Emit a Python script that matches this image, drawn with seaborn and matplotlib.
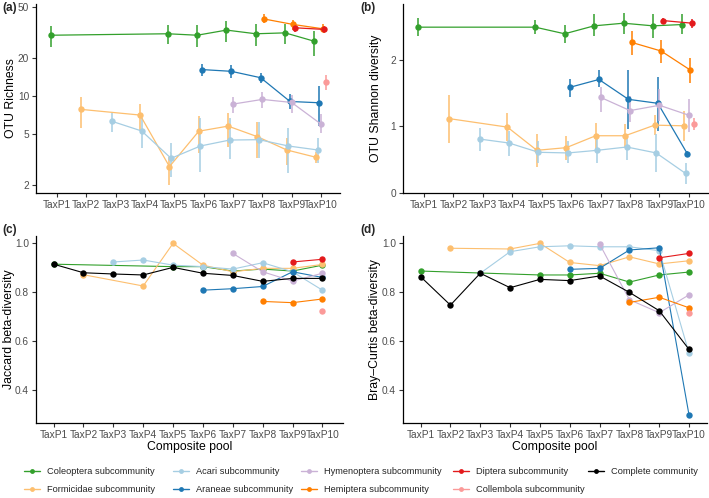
import matplotlib
matplotlib.use("Agg")
import matplotlib.pyplot as plt
from matplotlib.lines import Line2D
from matplotlib.ticker import NullLocator, FixedLocator
import seaborn as sns
import pandas as pd

sns.set_style("ticks")
plt.rcParams['font.family'] = ['Liberation Sans', 'DejaVu Sans']

POOLS = ["TaxP1", "TaxP2", "TaxP3", "TaxP4", "TaxP5", "TaxP6", "TaxP7", "TaxP8", "TaxP9", "TaxP10"]
SERIES = ["Coleoptera subcommunity", "Formicidae subcommunity", "Acari subcommunity",
          "Araneae subcommunity", "Hymenoptera subcommunity", "Hemiptera subcommunity",
          "Diptera subcommunity", "Collembola subcommunity", "Complete community"]
COLORS = ["#33a02c", "#fdbf6f", "#a6cee3", "#1f78b4", "#cab2d6", "#ff7f00", "#e31a1c", "#fb9a99", "#000000"]
N = None

# (a) OTU richness: mean, lower, upper
rich = {
    "Coleoptera subcommunity": [29.9, N, N, N, 30.7, 29.9, 32.8, 30.7, 31.2, 26.8],
    "Formicidae subcommunity": [N, 7.85, N, 7.09, 2.8, 5.3, 5.81, 4.8, 3.78, 3.31],
    "Acari subcommunity": [N, N, 6.32, 5.32, 3.25, 4.06, 4.52, 4.55, 4.06, 3.78],
    "Araneae subcommunity": [N, N, N, N, N, 16.1, 15.6, 13.9, 9.06, 8.85],
    "Hymenoptera subcommunity": [N, N, N, N, N, N, 8.64, 9.4, 8.9, 6.03],
    "Hemiptera subcommunity": [N, N, N, N, N, N, N, 40.1, 36.3, 33.6],
    "Diptera subcommunity": [N, N, N, N, N, N, N, N, 34.2, 33.2],
    "Collembola subcommunity": [N, N, N, N, N, N, N, N, N, 12.9],
}
rich_lo = {
    "Coleoptera subcommunity": [24.2, N, N, N, 25.3, 24.2, 26.5, 24.8, 25.3, 20.7],
    "Formicidae subcommunity": [N, 5.64, N, 5.41, 2.0, 3.6, 4.0, 3.25, 2.88, 2.97],
    "Acari subcommunity": [N, N, 5.25, 3.94, 2.34, 2.56, 3.19, 3.25, 2.51, 2.97],
    "Araneae subcommunity": [N, N, N, N, N, 14.3, 13.95, 12.7, 7.94, 5.81],
    "Hymenoptera subcommunity": [N, N, N, N, N, N, 7.3, 8.0, 7.3, 5.1],
    "Hemiptera subcommunity": [N, N, N, N, N, N, N, 37.3, 33.1, 31.7],
    "Diptera subcommunity": [N, N, N, N, N, N, N, N, 31.7, 31.2],
    "Collembola subcommunity": [N, N, N, N, N, N, N, N, N, 11.2],
}
rich_hi = {
    "Coleoptera subcommunity": [35.6, N, N, N, 36.2, 35.8, 38.7, 36.4, 36.4, 32.1],
    "Formicidae subcommunity": [N, 9.86, N, 8.59, 3.35, 7.0, 7.3, 6.28, 4.66, 3.67],
    "Acari subcommunity": [N, N, 7.3, 6.68, 4.26, 6.68, 6.68, 6.28, 5.57, 4.66],
    "Araneae subcommunity": [N, N, N, N, N, 17.96, 17.4, 15.2, 10.3, 11.9],
    "Hymenoptera subcommunity": [N, N, N, N, N, N, 9.86, 10.8, 10.2, 7.22],
    "Hemiptera subcommunity": [N, N, N, N, N, N, N, 43.6, 39.6, 36.4],
    "Diptera subcommunity": [N, N, N, N, N, N, N, N, 36.9, 35.2],
    "Collembola subcommunity": [N, N, N, N, N, N, N, N, N, 14.6],
}

# (b) Shannon diversity: mean, lower, upper
shan = {
    "Coleoptera subcommunity": [2.50, N, N, N, 2.50, 2.40, 2.52, 2.56, 2.52, 2.54],
    "Formicidae subcommunity": [N, 1.12, N, 0.99, 0.64, 0.68, 0.86, 0.86, 1.02, 1.01],
    "Acari subcommunity": [N, N, 0.81, 0.75, 0.61, 0.60, 0.64, 0.69, 0.60, 0.29],
    "Araneae subcommunity": [N, N, N, N, N, 1.59, 1.71, 1.41, 1.35, 0.59],
    "Hymenoptera subcommunity": [N, N, N, N, N, N, 1.44, 1.24, 1.32, 1.17],
    "Hemiptera subcommunity": [N, N, N, N, N, N, N, 2.27, 2.14, 1.85],
    "Diptera subcommunity": [N, N, N, N, N, N, N, N, 2.60, 2.56],
    "Collembola subcommunity": [N, N, N, N, N, N, N, N, N, 1.03],
}
shan_lo = {
    "Coleoptera subcommunity": [2.36, N, N, N, 2.39, 2.26, 2.36, 2.39, 2.34, 2.39],
    "Formicidae subcommunity": [N, 0.75, N, 0.78, 0.39, 0.50, 0.64, 0.68, 0.87, 0.78],
    "Acari subcommunity": [N, N, 0.63, 0.55, 0.45, 0.45, 0.45, 0.50, 0.31, 0.13],
    "Araneae subcommunity": [N, N, N, N, N, 1.45, 1.59, 0.96, 0.93, 0.55],
    "Hymenoptera subcommunity": [N, N, N, N, N, N, 1.22, 1.06, 1.08, 0.91],
    "Hemiptera subcommunity": [N, N, N, N, N, N, N, 2.08, 1.96, 1.65],
    "Diptera subcommunity": [N, N, N, N, N, N, N, N, 2.56, 2.48],
    "Collembola subcommunity": [N, N, N, N, N, N, N, N, N, 0.94],
}
shan_hi = {
    "Coleoptera subcommunity": [2.64, N, N, N, 2.61, 2.54, 2.70, 2.72, 2.70, 2.70],
    "Formicidae subcommunity": [N, 1.48, N, 1.21, 0.88, 0.86, 1.05, 1.03, 1.18, 1.23],
    "Acari subcommunity": [N, N, 0.98, 0.93, 0.78, 0.78, 0.86, 0.88, 0.88, 0.45],
    "Araneae subcommunity": [N, N, N, N, N, 1.71, 1.85, 1.85, 1.75, 0.63],
    "Hymenoptera subcommunity": [N, N, N, N, N, N, 1.60, 1.46, 1.56, 1.42],
    "Hemiptera subcommunity": [N, N, N, N, N, N, N, 2.44, 2.31, 2.03],
    "Diptera subcommunity": [N, N, N, N, N, N, N, N, 2.64, 2.63],
    "Collembola subcommunity": [N, N, N, N, N, N, N, N, N, 1.13],
}

# (c) Jaccard beta-diversity
jacc = {
    "Coleoptera subcommunity": [0.915, N, N, N, 0.905, 0.905, 0.887, 0.895, 0.887, 0.911],
    "Formicidae subcommunity": [N, 0.872, N, 0.826, 1.0, 0.911, 0.884, 0.898, 0.898, 0.914],
    "Acari subcommunity": [N, N, 0.924, 0.932, 0.911, 0.905, 0.895, 0.921, 0.884, 0.809],
    "Araneae subcommunity": [N, N, N, N, N, 0.809, 0.815, 0.824, 0.884, 0.861],
    "Hymenoptera subcommunity": [N, N, N, N, N, N, 0.959, 0.884, 0.846, 0.878],
    "Hemiptera subcommunity": [N, N, N, N, N, N, N, 0.763, 0.758, 0.773],
    "Diptera subcommunity": [N, N, N, N, N, N, N, N, 0.924, 0.935],
    "Collembola subcommunity": [N, N, N, N, N, N, N, N, N, 0.725],
    "Complete community": [0.915, 0.880, 0.875, 0.871, 0.902, 0.878, 0.869, 0.845, 0.857, 0.857],
}

# (d) Bray-Curtis beta-diversity
bray = {
    "Coleoptera subcommunity": [0.887, N, N, N, 0.871, 0.871, 0.878, 0.842, 0.871, 0.883],
    "Formicidae subcommunity": [N, 0.980, N, 0.977, 1.0, 0.922, 0.909, 0.945, 0.916, 0.929],
    "Acari subcommunity": [N, N, 0.878, 0.966, 0.986, 0.990, 0.986, 0.986, 0.970, 0.551],
    "Araneae subcommunity": [N, N, N, N, N, 0.894, 0.898, 0.973, 0.982, 0.298],
    "Hymenoptera subcommunity": [N, N, N, N, N, N, 0.997, 0.770, 0.717, 0.790],
    "Hemiptera subcommunity": [N, N, N, N, N, N, N, 0.759, 0.780, 0.737],
    "Diptera subcommunity": [N, N, N, N, N, N, N, N, 0.941, 0.959],
    "Collembola subcommunity": [N, N, N, N, N, N, N, N, N, 0.717],
    "Complete community": [0.864, 0.748, 0.878, 0.819, 0.853, 0.848, 0.867, 0.800, 0.725, 0.567],
}

PAL = dict(zip(SERIES, COLORS))
W, H = 709, 498
fig = plt.figure(figsize=(W / 100, H / 100), dpi=100)


def axes_px(l, t, r, b):
    return fig.add_axes([l / W, 1 - b / H, (r - l) / W, (b - t) / H])


def draw(ax, means, lo=None, hi=None, dodge=0.0, lw=0.9):
    rows = []
    for i, s in enumerate(SERIES):
        if s not in means:
            continue
        off = (i - 4) * dodge
        for j, v in enumerate(means[s]):
            if v is None:
                continue
            rows.append(dict(series=s, x=j + 1 + off, v=v,
                             lo=(lo[s][j] if lo else None), hi=(hi[s][j] if hi else None)))
    df = pd.DataFrame(rows)
    present = [s for s in SERIES if s in means]
    for s in present:
        sub = df[df.series == s]
        if lo is not None:
            ax.vlines(sub.x, sub.lo, sub.hi, color=PAL[s], lw=1.1, zorder=2)
    sns.lineplot(data=df, x="x", y="v", hue="series", hue_order=present, palette=PAL,
                 marker="o", markersize=4.6, markeredgewidth=0, lw=lw, legend=False,
                 ax=ax, estimator=None, sort=True, zorder=3)


def style(ax, xlim, ylim, ylabel, xlabel=None, ylabx=-0.06):
    ax.set_xlim(*xlim)
    ax.set_ylim(*ylim)
    ax.set_xticks(range(1, 11))
    ax.set_xticklabels(POOLS)
    for sp in ["top", "right"]:
        ax.spines[sp].set_visible(False)
    for sp in ["left", "bottom"]:
        ax.spines[sp].set_color("black")
        ax.spines[sp].set_linewidth(0.9)
    ax.tick_params(axis="both", colors="#333333", labelcolor="#4d4d4d", labelsize=7.3,
                   length=3, width=0.8, pad=2)
    ax.set_ylabel(ylabel, fontsize=8.8, color="black")
    ax.yaxis.set_label_coords(ylabx, 0.5)
    if xlabel:
        ax.set_xlabel(xlabel, fontsize=8.8, color="black")
        ax.xaxis.set_label_coords(0.5, -0.095)
    else:
        ax.set_xlabel("")


axa = axes_px(36, 4, 340, 193)
draw(axa, rich, rich_lo, rich_hi, dodge=0.055)
axa.set_yscale("log")
style(axa, (0.285, 10.65), (1.74, 52.5), "OTU Richness", ylabx=-0.062)
axa.yaxis.set_major_locator(FixedLocator([2, 5, 10, 20, 50]))
axa.set_yticklabels(["2", "5", "10", "20", "50"])
axa.yaxis.set_minor_locator(NullLocator())

axb = axes_px(403, 4, 708, 193)
draw(axb, shan, shan_lo, shan_hi, dodge=0.055)
style(axb, (0.287, 10.65), (-0.005, 2.85), "OTU Shannon diversity", ylabx=-0.068)
axb.set_yticks([0, 1, 2])
axb.set_yticklabels(["0", "1", "2"])

axc = axes_px(36, 236, 343, 423)
draw(axc, jacc, lw=0.8)
style(axc, (0.41, 10.69), (0.267, 1.03), "Jaccard beta-diversity", "Composite pool", ylabx=-0.07)
axc.set_yticks([0.4, 0.6, 0.8, 1.0])
axc.set_yticklabels(["0.4", "0.6", "0.8", "1.0"])

axd = axes_px(403, 236, 707, 423)
draw(axd, bray, lw=0.8)
style(axd, (0.41, 10.6), (0.267, 1.03), "Bray\u2013Curtis beta-diversity", "Composite pool", ylabx=-0.074)
axd.set_yticks([0.4, 0.6, 0.8, 1.0])
axd.set_yticklabels(["0.4", "0.6", "0.8", "1.0"])

for lab, x, y in [("(a)", 2, 8), ("(b)", 360, 8), ("(c)", 2, 230), ("(d)", 360, 230)]:
    fig.text(x / W, 1 - y / H, lab, fontsize=8.5, fontweight="bold", va="center", ha="left")

# legend: five columns of two entries each (column-major order), placed per column
handles = [Line2D([], [], color=c, marker="o", lw=1.0, ms=3.5, markeredgewidth=0) for c in COLORS]
col_x = [24, 173, 301, 453, 588]
for k, x0 in enumerate(col_x):
    hs = handles[2 * k:2 * k + 2]
    ls = SERIES[2 * k:2 * k + 2]
    fig.legend(hs, ls, loc="upper left", bbox_to_anchor=(x0 / W, 1 - 467 / H),
               frameon=False, fontsize=6.7, handlelength=1.75, handletextpad=0.7,
               labelspacing=1.02, borderpad=0, borderaxespad=0)

fig.savefig("out.png", dpi=100)
